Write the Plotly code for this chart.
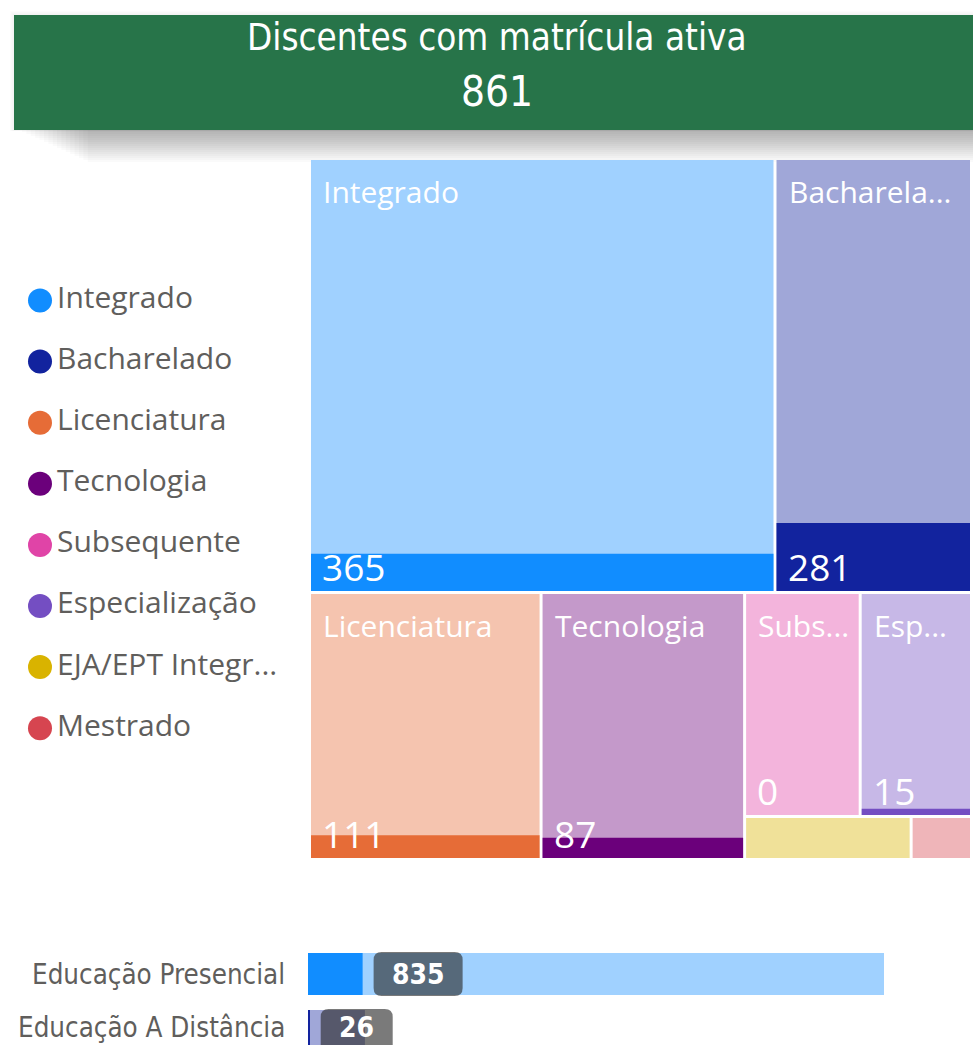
import plotly.graph_objects as go

# ---------------- data ----------------
categories = ["Integrado", "Bacharelado", "Licenciatura", "Tecnologia",
              "Subsequente", "Especialização", "EJA/EPT Integrado", "Mestrado"]
legend_labels = ["Integrado", "Bacharelado", "Licenciatura", "Tecnologia",
                 "Subsequente", "Especialização", "EJA/EPT Integr...", "Mestrado"]
tile_labels = ["Integrado", "Bacharela...", "Licenciatura", "Tecnologia",
               "Subs...", "Esp...", "", ""]
total_students = [4212, 1778, 1289, 1133, 540, 520, 149, 54]
active_students = [365, 281, 111, 87, 0, 15, 2, 0]
show_value = [True, True, True, True, True, True, False, False]
cat_colors = ["#118DFF", "#12239E", "#E66C37", "#6B007B",
              "#E044A7", "#744EC2", "#D9B300", "#D64550"]

modalities = ["Educação Presencial", "Educação A Distância"]
modality_total = [8805, 870]
modality_active = [835, 26]
modality_colors = ["#118DFF", "#12239E"]

header_title = "Discentes com matrícula ativa"
header_value = sum(active_students)

# ---------------- helpers ----------------
W_FIG, H_FIG = 973, 1045
PHI = (1 + 5 ** 0.5) / 2


def px_x(p):
    return p / W_FIG


def px_y(p):
    return 1 - p / H_FIG


def light(hexc, a=0.4):
    r, g, b = int(hexc[1:3], 16), int(hexc[3:5], 16), int(hexc[5:7], 16)
    return "rgb({},{},{})".format(round(255 - a * (255 - r)),
                                  round(255 - a * (255 - g)),
                                  round(255 - a * (255 - b)))


def squarify(values, x0, y0, x1, y1, ratio=PHI):
    """Port of d3-hierarchy treemapSquarify (y grows downward)."""
    n = len(values)
    rects = [None] * n
    i0 = i1 = 0
    value = float(sum(values))
    while i0 < n:
        dx, dy = x1 - x0, y1 - y0
        sum_v = values[i1]
        i1 += 1
        while not sum_v and i1 < n:
            sum_v = values[i1]
            i1 += 1
        min_v = max_v = sum_v
        alpha = max(dy / dx, dx / dy) / (value * ratio)
        beta = sum_v * sum_v * alpha
        min_ratio = max(max_v / beta, beta / min_v)
        while i1 < n:
            nv = values[i1]
            sum_v += nv
            min_v = min(min_v, nv)
            max_v = max(max_v, nv)
            beta = sum_v * sum_v * alpha
            new_ratio = max(max_v / beta, beta / min_v)
            if new_ratio > min_ratio:
                sum_v -= nv
                break
            min_ratio = new_ratio
            i1 += 1
        row = list(range(i0, i1))
        if dx < dy:
            ny = y0 + dy * sum_v / value
            xx = x0
            for k in row:
                w = dx * values[k] / sum_v
                rects[k] = (xx, y0, xx + w, ny)
                xx += w
            y0 = ny
        else:
            nx = x0 + dx * sum_v / value
            yy = y0
            for k in row:
                h = dy * values[k] / sum_v
                rects[k] = (x0, yy, nx, yy + h)
                yy += h
            x0 = nx
        value -= sum_v
        i0 = i1
    return rects


def rounded_box_path(x0, w, h, r):
    x1 = x0 + w
    b, t = -h / 2, h / 2
    return ("M {a},{b} L {c},{b} Q {x1},{b} {x1},{b2} L {x1},{t2} Q {x1},{t} {c},{t} "
            "L {a},{t} Q {x0},{t} {x0},{t2} L {x0},{b2} Q {x0},{b} {a},{b} Z").format(
        a=x0 + r, c=x1 - r, x0=x0, x1=x1, b=b, t=t, b2=b + r, t2=t - r)


TEXT_FONT = "Open Sans, Noto Sans, sans-serif"
DIN_FONT = "DIN, 'DejaVu Sans Condensed', Roboto, sans-serif"
GREY = "#605E5C"

fig = go.Figure()
annotations = []
shapes = []

# ---------------- header card ----------------
N_SH = 16
for k in range(N_SH):
    depth = 32.0 * (k + 1) / N_SH
    shapes.append(dict(type="rect", xref="paper", yref="paper", layer="below",
                       x0=px_x(22 + 70.0 * k / N_SH), x1=1.0,
                       y0=px_y(130 + depth), y1=px_y(129),
                       fillcolor="rgba(0,0,0,0.02)", line=dict(width=0)))
for k in range(4):
    shapes.append(dict(type="rect", xref="paper", yref="paper", layer="below",
                       x0=px_x(14 - k - 1), x1=1.0,
                       y0=px_y(131), y1=px_y(15 - k - 1),
                       fillcolor="rgba(0,0,0,0.012)", line=dict(width=0)))
shapes.append(dict(type="rect", xref="paper", yref="paper",
                   x0=px_x(14), x1=1.0, y0=px_y(130), y1=px_y(15),
                   fillcolor="#277449", line=dict(width=0)))
annotations.append(dict(xref="paper", yref="paper", x=px_x(496.5), y=px_y(37),
                        text=header_title, showarrow=False,
                        font=dict(family=DIN_FONT, size=36.5, color="white"),
                        xanchor="center", yanchor="middle"))
annotations.append(dict(xref="paper", yref="paper", x=px_x(496.5), y=px_y(92),
                        text=str(header_value), showarrow=False,
                        font=dict(family=DIN_FONT, size=42, color="white"),
                        xanchor="center", yanchor="middle"))

# ---------------- treemap ----------------
TM_W, TM_H = 662, 701
PAD = 1.5
rects = squarify(total_students, 0, 0, TM_W, TM_H)
for i, cat in enumerate(categories):
    x0, y0, x1, y1 = rects[i]
    x0, y0, x1, y1 = x0 + PAD, y0 + PAD, x1 - PAD, y1 - PAD
    fig.add_trace(go.Scatter(
        x=[x0, x1, x1, x0, x0], y=[y0, y0, y1, y1, y0],
        fill="toself", fillcolor=light(cat_colors[i]), mode="lines",
        line=dict(width=0), xaxis="x", yaxis="y", showlegend=False,
        hoveron="fills", name=cat,
        text="{}: {} / {}".format(cat, active_students[i], total_students[i]),
        hoverinfo="text"))
    frac = active_students[i] / total_students[i]
    if frac > 0:
        yd = y1 - frac * (y1 - y0)
        fig.add_trace(go.Scatter(
            x=[x0, x1, x1, x0, x0], y=[yd, yd, y1, y1, yd],
            fill="toself", fillcolor=cat_colors[i], mode="lines",
            line=dict(width=0), xaxis="x", yaxis="y", showlegend=False,
            hoverinfo="skip"))
    if tile_labels[i]:
        annotations.append(dict(xref="x", yref="y", x=x0, y=y0,
                                text=tile_labels[i], showarrow=False,
                                xanchor="left", yanchor="middle",
                                xshift=10, yshift=-31,
                                font=dict(family=TEXT_FONT, size=30, color="white")))
    if show_value[i]:
        annotations.append(dict(xref="x", yref="y", x=x0, y=y1,
                                text=str(active_students[i]), showarrow=False,
                                xanchor="left", yanchor="middle",
                                xshift=9, yshift=25,
                                font=dict(family=TEXT_FONT, size=37, color="white")))

# ---------------- legend (left) ----------------
LEG_TOP, LEG_STEP = 300.5, 61.1
fig.add_trace(go.Scatter(
    x=[40] * len(categories), y=list(range(len(categories))),
    mode="markers", marker=dict(size=24, color=cat_colors),
    xaxis="x2", yaxis="y2", showlegend=False, hoverinfo="skip"))
fig.add_trace(go.Scatter(
    x=[57] * len(categories), y=list(range(len(categories))),
    mode="text", text=legend_labels, textposition="middle right",
    textfont=dict(family=TEXT_FONT, size=30, color=GREY),
    xaxis="x2", yaxis="y2", showlegend=False, hoverinfo="skip"))

# ---------------- modality bars ----------------
ypos = list(range(len(modalities)))
fig.add_trace(go.Bar(
    x=modality_total, y=ypos, orientation="h", width=0.74,
    marker=dict(color=[light(c) for c in modality_colors], line=dict(width=0)),
    xaxis="x3", yaxis="y3", showlegend=False, hoverinfo="skip"))
fig.add_trace(go.Bar(
    x=modality_active, y=ypos, orientation="h", width=0.74,
    marker=dict(color=modality_colors, line=dict(width=0)),
    xaxis="x3", yaxis="y3", showlegend=False, hoverinfo="skip"))
for j, v in enumerate(modality_active):
    bw = 17 * len(str(v)) + 38
    lift = 4 if j == len(modality_active) - 1 else 0
    shapes.append(dict(type="path", xref="x3", yref="y3",
                       xsizemode="pixel", ysizemode="pixel",
                       xanchor=v, yanchor=j,
                       path=rounded_box_path(11, bw, 44, 8),
                       fillcolor="rgba(40,40,40,0.62)", line=dict(width=0)))
    annotations.append(dict(xref="x3", yref="y3", x=v, y=j, text="<b>{}</b>".format(v),
                            showarrow=False, xanchor="center", yanchor="middle",
                            xshift=11 + bw / 2, yshift=lift,
                            font=dict(family=DIN_FONT, size=28, color="white")))
    # category label at the left of each bar
    annotations.append(dict(xref="paper", yref="y3", x=px_x(287), y=j,
                            text=modalities[j], showarrow=False,
                            xanchor="right", yanchor="middle", yshift=lift,
                            font=dict(family=DIN_FONT, size=27.5, color=GREY)))

hidden = dict(showgrid=False, zeroline=False, showticklabels=False,
              showline=False, ticks="", fixedrange=True)

fig.update_layout(
    width=W_FIG, height=H_FIG,
    margin=dict(l=0, r=0, t=0, b=0),
    paper_bgcolor="white", plot_bgcolor="rgba(0,0,0,0)",
    showlegend=False, barmode="overlay",
    xaxis=dict(domain=[px_x(309.5), px_x(971.5)], range=[0, TM_W], **hidden),
    yaxis=dict(domain=[px_y(859.5), px_y(158.5)], range=[TM_H, 0], **hidden),
    xaxis2=dict(domain=[0, px_x(300)], range=[0, 300], anchor="y2", **hidden),
    yaxis2=dict(domain=[px_y(LEG_TOP + 7.5 * LEG_STEP), px_y(LEG_TOP - 0.5 * LEG_STEP)],
                range=[7.5, -0.5], anchor="x2", **hidden),
    xaxis3=dict(domain=[px_x(308), px_x(884)], range=[0, max(modality_total)],
                anchor="y3", **hidden),
    yaxis3=dict(domain=[0, px_y(974 - 0.8 * 57)],
                range=[(1045 - 974) / 57, -0.8], anchor="x3", **hidden),
    annotations=annotations, shapes=shapes,
)

fig.write_html("out.html", config={"displayModeBar": False},
               post_script="document.body.style.margin='0px';")
